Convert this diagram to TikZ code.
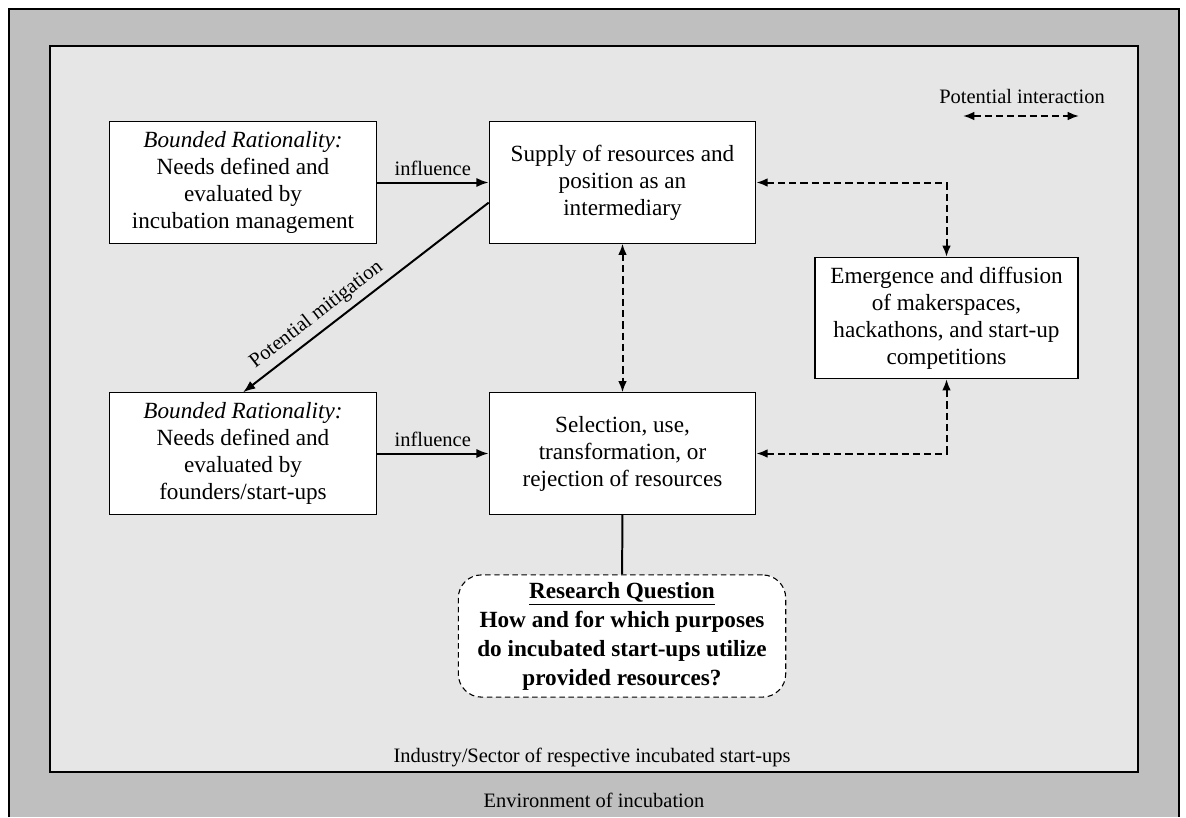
\documentclass[tikz,border=0pt]{standalone}
\usepackage{fontspec}
\setmainfont{Liberation Serif}
\usetikzlibrary{arrows.meta}
\definecolor{envgray}{HTML}{BFBFBF}
\definecolor{sectorgray}{HTML}{E6E6E6}
\newlength{\boxwidth}
\setlength{\boxwidth}{5.17cm}

\begin{document}
\begin{tikzpicture}[x=0.0194cm, y=-0.0194cm,
    font=\fontsize{11.3}{13.5}\selectfont,
    factor/.style={draw, line width=0.6pt, fill=white, align=center,
        minimum width=\boxwidth, minimum height=2.35cm, inner sep=2pt,
        font=\fontsize{12.8}{14.9}\selectfont},
    influence/.style={line width=1.1pt, -{Latex[length=2.4mm,width=1.8mm]}},
    interact/.style={line width=1.1pt, dash pattern=on 4pt off 2.2pt,
        {Latex[length=2.2mm,width=1.7mm]}-{Latex[length=2.2mm,width=1.7mm]}}]
    \useasboundingbox (0,0) rectangle (1186,817);
    % environment and sector
    \fill[envgray] (9,9) rectangle (1179,817);
    \draw[line width=0.8pt] (9,817) |- (1179,9) -- (1179,817);
    \draw[line width=0.8pt, fill=sectorgray] (50,46) rectangle (1138,772);
    \node (sector) at (592,757) {Industry/Sector of respective incubated start-ups};
    \node (env) at (594,800) {Environment of incubation};

    % legend
    \node (legend) at (1022,96) {Potential interaction};
    \coordinate (legA) at (963,116);
    \coordinate (legB) at (1079,116);
    \draw[interact] (legA) -- (legB);

    \node[factor] (brmgmt) at (243,182.5) {\textit{Bounded Rationality:}\\ Needs defined and\\ evaluated by\\ incubation management};
    \node[factor] (supply) at (622.5,182.5) {Supply of resources and\\ position as an\\ intermediary};
    \node[factor] (brfound) at (243,453.5) {\textit{Bounded Rationality:}\\ Needs defined and\\ evaluated by\\ founders/start-ups};
    \node[factor] (select) at (622.5,453.5) {Selection, use,\\ transformation, or\\ rejection of resources};
    \node[factor, minimum width=5.1cm] (emerge) at (946.5,318) {Emergence and diffusion\\ of makerspaces,\\ hackathons, and start-up\\ competitions};
    \node[draw, line width=0.6pt, dash pattern=on 3pt off 2pt, rounded corners=0.45cm,
        fill=white, align=center, minimum width=6.35cm, minimum height=2.37cm,
        font=\fontsize{12.8}{16}\selectfont\bfseries] (rq) at (622,636)
        {\underline{Research Question}\\ How and for which purposes\\ do incubated start-ups utilize\\ provided resources?};

    \draw[influence] (brmgmt) -- node[above] {influence} (supply);
    \draw[influence] (brfound) -- node[above] {influence} (select);
    \draw[influence] ([yshift=-0.39cm]supply.west) -- node[pos=0.66, above, sloped] {Potential mitigation} (brfound.north);
    \draw[line width=1.1pt] (select) -- (rq);

    \draw[interact] (supply) -- (select);
    \draw[interact] (supply.east) -| (emerge.north);
    \draw[interact] (select.east) -| (emerge.south);
\end{tikzpicture}
\end{document}
